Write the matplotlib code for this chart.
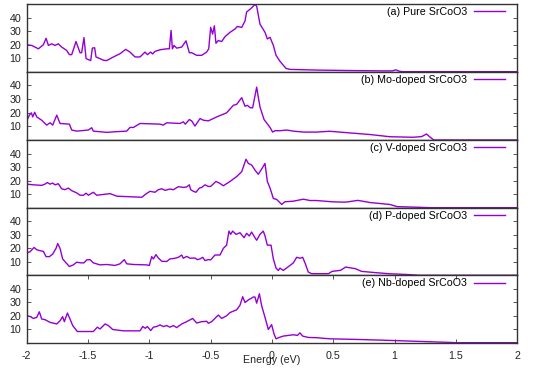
import matplotlib
matplotlib.use("Agg")
import matplotlib.pyplot as plt

plt.rcParams['font.family'] = ['Liberation Sans', 'DejaVu Sans']

# (a) Pure SrCoO3
e_pure = [-2.000, -1.959, -1.905, -1.864, -1.842, -1.823, -1.796, -1.769, -1.742, -1.715,
          -1.674, -1.652, -1.633, -1.598, -1.565, -1.552, -1.533, -1.516, -1.478, -1.465,
          -1.446, -1.435, -1.375, -1.348, -1.293, -1.239, -1.193, -1.158, -1.117, -1.076,
          -1.035, -1.016, -0.989, -0.973, -0.954, -0.913, -0.859, -0.837, -0.823, -0.812,
          -0.799, -0.777, -0.736, -0.701, -0.674, -0.655, -0.614, -0.573, -0.533, -0.516,
          -0.500, -0.484, -0.470, -0.457, -0.438, -0.410, -0.383, -0.342, -0.302, -0.283,
          -0.247, -0.220, -0.207, -0.174, -0.139, -0.125, -0.098, -0.057, -0.038, -0.016,
          0.011, 0.033, 0.065, 0.114, 0.147, 0.364, 0.60, 0.90, 0.98, 1.01,
          1.04, 1.07, 2.00]
dos_pure = [19.9, 19.4, 16.9, 19.9, 24.7, 19.4, 20.6, 19.4, 20.6, 18.2,
            15.7, 12.6, 12.6, 22.3, 14.0, 14.0, 25.2, 9.7, 8.2, 17.4,
            17.7, 10.9, 8.5, 8.2, 10.9, 13.3, 16.5, 14.5, 10.9, 10.9,
            14.5, 12.6, 14.5, 13.1, 15.0, 16.2, 16.9, 16.9, 30.5, 16.9,
            19.4, 17.4, 18.2, 22.8, 14.0, 14.0, 12.1, 12.1, 14.5, 16.9,
            32.7, 27.8, 33.9, 21.0, 23.0, 22.3, 25.9, 29.1, 31.5, 33.4,
            32.7, 37.5, 44.1, 46.5, 49.6, 48.4, 35.1, 29.1, 24.2, 25.4,
            19.4, 12.1, 7.7, 2.4, 1.7, 1.2, 0.9, 0.6, 0.6, 1.4,
            0.3, 0.0, 0.0]

# (b) Mo-doped SrCoO3
e_mo = [-2.000, -1.978, -1.962, -1.951, -1.935, -1.918, -1.878, -1.837, -1.810, -1.788,
        -1.755, -1.728, -1.652, -1.633, -1.592, -1.497, -1.470, -1.457, -1.348, -1.266,
        -1.185, -1.158, -1.130, -1.076, -0.913, -0.886, -0.859, -0.750, -0.723, -0.707,
        -0.674, -0.655, -0.628, -0.587, -0.560, -0.519, -0.451, -0.370, -0.315, -0.288,
        -0.247, -0.220, -0.201, -0.179, -0.158, -0.125, -0.112, -0.098, -0.065, -0.016,
        0.005, 0.024, 0.065, 0.120, 0.174, 0.255, 0.364, 0.47, 0.55, 0.80,
        0.96, 1.15, 1.22, 1.26, 1.29, 1.32, 2.00]
dos_mo = [14.0, 18.2, 19.9, 16.9, 20.3, 16.9, 14.5, 10.9, 12.6, 10.9,
          18.2, 12.1, 11.6, 7.3, 6.5, 7.3, 9.0, 6.5, 5.6, 6.1,
          6.5, 9.2, 9.2, 12.1, 11.6, 10.9, 12.6, 12.1, 13.3, 11.6,
          15.0, 14.0, 10.2, 15.7, 14.5, 14.0, 16.9, 19.9, 25.4, 26.1,
          31.0, 24.7, 25.4, 23.7, 23.5, 38.7, 31.5, 24.2, 15.0, 9.2,
          5.8, 6.8, 6.8, 7.3, 6.5, 5.8, 5.8, 6.4, 5.8, 4.0,
          2.4, 2.0, 2.5, 4.4, 2.0, 0.0, 0.0]

# (c) V-doped SrCoO3
e_v = [-2.000, -1.946, -1.878, -1.851, -1.832, -1.810, -1.788, -1.769, -1.742, -1.715,
       -1.688, -1.660, -1.633, -1.592, -1.565, -1.538, -1.516, -1.497, -1.457, -1.429,
       -1.321, -1.299, -1.266, -1.185, -1.062, -1.027, -0.995, -0.954, -0.927, -0.899,
       -0.872, -0.832, -0.804, -0.764, -0.723, -0.696, -0.674, -0.663, -0.641, -0.620,
       -0.592, -0.573, -0.546, -0.519, -0.500, -0.457, -0.429, -0.397, -0.342, -0.288,
       -0.247, -0.212, -0.193, -0.166, -0.139, -0.112, -0.084, -0.057, -0.038, -0.016,
       0.011, 0.038, 0.079, 0.106, 0.174, 0.255, 0.310, 0.364, 0.50, 0.60,
       0.70, 0.80, 0.96, 1.02, 1.20, 1.30, 2.00]
dos_v = [17.4, 16.9, 16.5, 17.4, 18.6, 17.4, 18.2, 16.9, 17.7, 14.0,
         13.3, 14.5, 12.6, 10.9, 9.2, 9.2, 10.7, 9.2, 11.4, 9.2,
         10.4, 9.7, 8.5, 8.2, 7.7, 10.2, 12.1, 11.4, 13.3, 14.0,
         12.8, 13.8, 13.3, 15.5, 15.0, 15.3, 16.9, 13.3, 12.1, 11.4,
         14.5, 15.0, 16.9, 15.7, 15.7, 19.4, 18.2, 16.2, 19.4, 23.0,
         26.6, 35.8, 32.7, 31.5, 27.8, 24.7, 28.6, 32.7, 19.4, 14.5,
         6.8, 6.1, 2.4, 4.4, 4.8, 6.3, 5.3, 5.3, 4.3, 4.1,
         5.4, 3.8, 2.4, 0.8, 0.3, 0.0, 0.0]

# (d) P-doped SrCoO3
e_p = [-2.000, -1.973, -1.940, -1.918, -1.891, -1.864, -1.842, -1.815, -1.788, -1.761,
       -1.747, -1.728, -1.707, -1.679, -1.652, -1.620, -1.592, -1.560, -1.533, -1.511,
       -1.484, -1.457, -1.402, -1.348, -1.280, -1.239, -1.204, -1.185, -1.130, -1.022,
       -1.000, -0.981, -0.967, -0.946, -0.927, -0.899, -0.859, -0.832, -0.791, -0.764,
       -0.736, -0.723, -0.696, -0.668, -0.628, -0.609, -0.587, -0.565, -0.546, -0.519,
       -0.500, -0.465, -0.424, -0.397, -0.370, -0.351, -0.337, -0.321, -0.293, -0.261,
       -0.228, -0.207, -0.185, -0.166, -0.139, -0.125, -0.098, -0.071, -0.057, -0.038,
       -0.008, 0.011, 0.033, 0.052, 0.065, 0.092, 0.147, 0.174, 0.201, 0.228,
       0.250, 0.269, 0.296, 0.323, 0.364, 0.46, 0.49, 0.56, 0.60, 0.68,
       0.73, 0.84, 0.95, 1.12, 1.20, 2.00]
dos_p = [16.5, 17.4, 20.6, 18.9, 18.2, 17.7, 13.8, 13.8, 15.7, 19.9,
         23.5, 19.9, 12.1, 9.2, 6.5, 7.7, 9.7, 9.2, 9.2, 11.4,
         11.6, 9.2, 7.7, 8.0, 7.3, 8.5, 11.6, 8.5, 8.0, 7.7,
         7.3, 13.8, 12.1, 15.3, 12.8, 10.4, 10.2, 12.1, 12.6, 13.3,
         15.0, 12.6, 14.0, 12.6, 12.8, 11.6, 12.1, 13.3, 10.9, 11.6,
         11.4, 15.0, 15.0, 19.9, 22.3, 32.7, 30.3, 32.7, 30.3, 31.5,
         27.8, 31.0, 29.1, 32.0, 27.8, 25.9, 30.3, 32.7, 29.1, 22.3,
         22.3, 12.1, 5.3, 3.6, 5.3, 3.6, 7.3, 9.2, 13.3, 12.6,
         13.3, 9.2, 2.4, 1.2, 1.2, 1.2, 2.9, 3.7, 6.1, 4.9,
         2.9, 2.0, 1.2, 0.5, 0.0, 0.0]

# (e) Nb-doped SrCoO3
e_nb = [-2.000, -1.973, -1.946, -1.918, -1.897, -1.878, -1.851, -1.810, -1.755, -1.728,
        -1.707, -1.693, -1.668, -1.647, -1.625, -1.587, -1.457, -1.424, -1.402, -1.361,
        -1.334, -1.299, -1.212, -1.076, -1.054, -1.033, -1.016, -0.989, -0.967, -0.940,
        -0.913, -0.886, -0.859, -0.832, -0.804, -0.777, -0.736, -0.696, -0.647, -0.614,
        -0.573, -0.533, -0.519, -0.492, -0.438, -0.410, -0.370, -0.342, -0.288, -0.261,
        -0.239, -0.220, -0.193, -0.152, -0.139, -0.125, -0.103, -0.084, -0.057, -0.030,
        -0.003, 0.016, 0.033, 0.065, 0.092, 0.174, 0.207, 0.228, 0.250, 0.296,
        0.364, 0.47, 0.70, 0.96, 1.29, 1.45, 1.50, 2.00]
dos_nb = [20.0, 19.5, 18.0, 18.8, 22.9, 17.6, 17.1, 15.1, 13.9, 16.3,
          19.3, 15.6, 22.0, 17.6, 12.7, 8.3, 8.3, 11.5, 10.2, 13.9,
          12.7, 9.8, 8.8, 8.8, 12.0, 10.7, 12.0, 9.0, 11.5, 12.0,
          13.2, 12.0, 12.7, 11.5, 12.7, 11.2, 13.9, 15.6, 18.0, 14.6,
          15.6, 15.9, 14.4, 15.6, 20.5, 18.0, 20.0, 22.4, 24.4, 27.8,
          34.1, 29.8, 31.7, 33.9, 33.9, 29.3, 36.3, 27.3, 18.8, 9.8,
          13.4, 6.6, 2.9, 4.1, 4.9, 5.9, 5.4, 7.3, 4.9, 3.9,
          3.7, 2.9, 2.4, 1.7, 0.7, 0.2, 0.0, 0.0]

energies = [e_pure, e_mo, e_v, e_p, e_nb]
dos_list = [dos_pure, dos_mo, dos_v, dos_p, dos_nb]
labels = ['(a) Pure SrCoO3', '(b) Mo-doped SrCoO3', '(c) V-doped SrCoO3',
          '(d) P-doped SrCoO3', '(e) Nb-doped SrCoO3']

xticks = [-2, -1.5, -1, -0.5, 0, 0.5, 1, 1.5, 2]
xticklabels = ['-2', '-1.5', '-1', '-0.5', '0', '0.5', '1', '1.5', '2']
yticks = [10, 20, 30, 40]

W, H = 545, 382
fig = plt.figure(figsize=(W / 100, H / 100), dpi=100)

left, right = 26.7, 517.3
edges = [4, 71.7, 140, 207.7, 275.3, 342.7]
line_color = '#9400d3'
fs = 7.7

for i in range(5):
    top, bot = edges[i], edges[i + 1]
    ax = fig.add_axes([left / W, 1 - bot / H, (right - left) / W, (bot - top) / H])
    ax.plot(energies[i], dos_list[i], color=line_color, lw=1.0, label=labels[i])
    ax.set_xlim(-2, 2)
    ax.set_ylim(0, 50)
    ax.set_yticks(yticks)
    ax.tick_params(axis='y', direction='in', length=3, width=0.7, color='#555555',
                   labelsize=fs, pad=4, left=True, right=True, labelcolor='#222222')
    if i == 4:
        ax.set_xticks(xticks)
        ax.set_xticklabels(xticklabels)
        ax.tick_params(axis='x', direction='in', length=3, width=0.7, color='#555555',
                       labelsize=fs, pad=6, top=True, bottom=True, labelcolor='#222222')
    else:
        ax.set_xticks([])
    for sp in ax.spines.values():
        sp.set_color('#333333')
        sp.set_linewidth(1.0)
    leg = ax.legend(loc='upper right', bbox_to_anchor=(0.975, 0.955), frameon=False,
                    markerfirst=False, handlelength=2.9, handletextpad=0.65,
                    borderpad=0, borderaxespad=0, fontsize=fs)

fig.text(0.5 * (left + right) / W, 1 - 360 / H, 'Energy (eV)', ha='center', va='center',
         fontsize=fs, color='#222222')

fig.savefig('out.png', dpi=100)
